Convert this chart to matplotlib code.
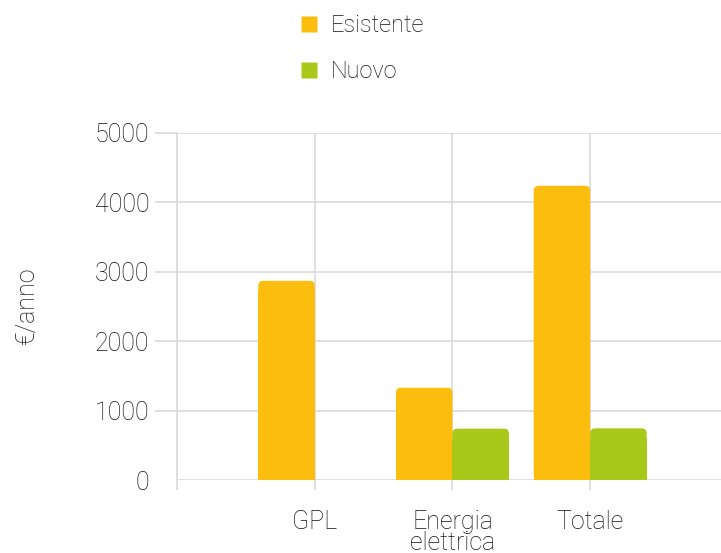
import matplotlib
matplotlib.use("Agg")
import matplotlib.pyplot as plt
from matplotlib.patches import FancyBboxPatch, Rectangle
from matplotlib.lines import Line2D

categories = ["GPL", "Energia\nelettrica", "Totale"]
esistente = [2870, 1330, 4240]
nuovo = [0, 740, 745]
series_labels = ["Esistente", "Nuovo"]
colors = ["#FCBE0E", "#AAC819"]
yticks = [0, 1000, 2000, 3000, 4000, 5000]

plt.rcParams["font.family"] = ["Roboto", "DejaVu Sans"]
text_color = "#111111"
grid_color = "#d9d9d9"
weight = "light"

fig = plt.figure(figsize=(7.21, 5.53), dpi=100)
ax = fig.add_axes([0.2455, 0.132, 0.7545, 0.6275])

width = 0.41
offsets = [-width / 2, width / 2]
xs = list(range(len(categories)))

ax.set_xlim(-0.993, 2.95)
ax.set_ylim(0, 5000)

# rounded top corners: radius in pixels converted to data units
fig.canvas.draw()
px_x = (ax.get_xlim()[1] - ax.get_xlim()[0]) / ax.bbox.width
px_y = (ax.get_ylim()[1] - ax.get_ylim()[0]) / ax.bbox.height
radius_px = 5
rx = radius_px * px_x
aspect = px_y / px_x

for vals, off, col in zip([esistente, nuovo], offsets, colors):
    for x, v in zip(xs, vals):
        if v <= 0:
            continue
        left = x + off - width / 2
        ax.add_patch(FancyBboxPatch((left, 0), width, v,
                                    boxstyle=f"round,pad=0,rounding_size={rx}",
                                    mutation_aspect=aspect,
                                    facecolor=col, edgecolor="none", zorder=3))
        ax.add_patch(Rectangle((left, 0), width, v - 2 * radius_px * px_y,
                               facecolor=col, edgecolor="none",
                               antialiased=False, zorder=3))

# grid
ax.set_yticks(yticks)
ax.set_yticklabels([str(t) for t in yticks])
ax.set_xticks([-1] + xs)
ax.set_xticklabels([""] + categories, linespacing=0.85)
ax.grid(True, color=grid_color, linewidth=1.2, zorder=0)
ax.set_axisbelow(True)
for s in ["top", "right", "bottom"]:
    ax.spines[s].set_visible(False)
ax.spines["left"].set_color(grid_color)
ax.spines["left"].set_linewidth(1.2)

ax.tick_params(axis="y", length=16, width=1.2, color=grid_color, pad=4,
               labelsize=18, labelcolor=text_color)
ax.tick_params(axis="x", length=7.5, width=1.2, color=grid_color, pad=14,
               labelsize=18, labelcolor=text_color)
ax.yaxis.get_major_ticks()[0].tick1line.set_visible(False)
for lab in ax.get_xticklabels() + ax.get_yticklabels():
    lab.set_fontweight(weight)
for lab in ax.get_xticklabels():
    lab.set_verticalalignment("top")

ax.set_ylabel("€/anno", fontsize=18, color=text_color, labelpad=40,
              fontweight=weight)

handles = [Line2D([], [], marker="s", linestyle="none", markersize=11.5,
                  markerfacecolor=c, markeredgecolor="none") for c in colors]
leg = fig.legend(handles, series_labels, loc="upper center",
                 bbox_to_anchor=(0.5, 1.004), frameon=False, fontsize=17,
                 labelspacing=0.98, handletextpad=0.4, handlelength=1.0,
                 borderaxespad=0.3)
for t in leg.get_texts():
    t.set_color(text_color)
    t.set_fontweight(weight)

fig.savefig("out.png", dpi=100)
